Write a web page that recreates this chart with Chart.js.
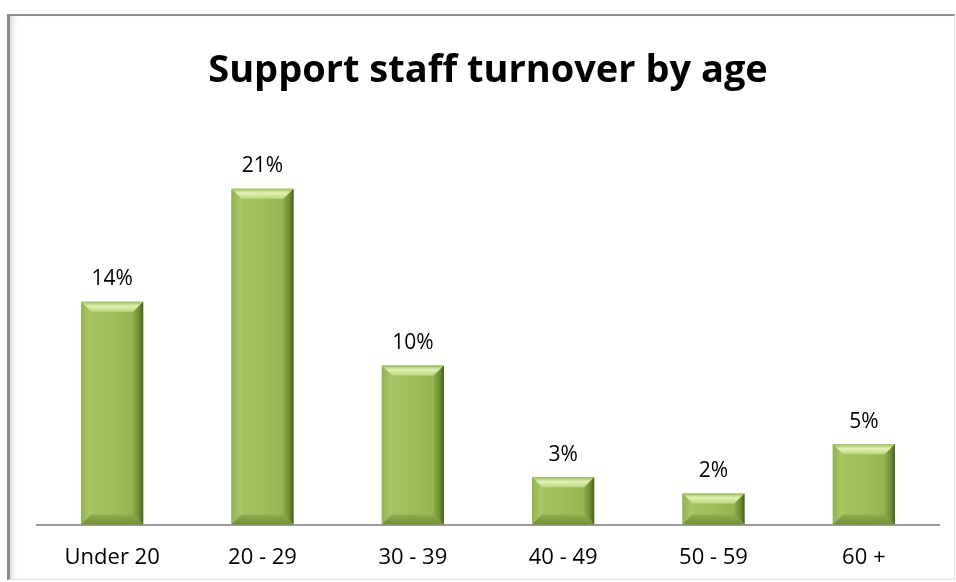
<!DOCTYPE html>
<html>
<head>
<meta charset="utf-8">
<script src="https://cdn.jsdelivr.net/npm/chart.js@4/dist/chart.umd.min.js"></script>
<style>
  html, body { margin: 0; padding: 0; background: #ffffff; }
  #wrap { position: relative; width: 956px; height: 582px; overflow: hidden; }
  #frame {
    position: absolute; left: 7px; top: 14px; width: 944px; height: 563px;
    border-left: 3px solid #8a8a8a; border-top: 2px solid #8f8f8f;
    border-right: 1px solid #e2e2e2; border-bottom: 1px solid #e2e2e2;
    box-shadow: inset 6px 0 6px -4px rgba(0,0,0,0.18);
  }
  canvas { position: absolute; left: 0; top: 0; }
</style>
</head>
<body>
<div id="wrap">
  <div id="frame"></div>
  <canvas id="c" width="956" height="582"></canvas>
</div>
<script>
const titleText = 'Support staff turnover by age';
const categories = ['Under 20', '20 - 29', '30 - 39', '40 - 49', '50 - 59', '60 +'];
const turnover = [14.0, 21.1, 10.0, 2.97, 1.96, 5.05];
const valueLabels = ['14%', '21%', '10%', '3%', '2%', '5%'];

const bevelPlugin = {
  id: 'bevel',
  afterDatasetsDraw(chart) {
    const ctx = chart.ctx;
    const meta = chart.getDatasetMeta(0);
    meta.data.forEach((bar, i) => {
      const p = bar.getProps(['x', 'y', 'base', 'width'], true);
      const L = p.x - p.width / 2, R = p.x + p.width / 2;
      const T = Math.min(p.y, p.base), B = Math.max(p.y, p.base);
      const s = Math.min(10, (B - T) / 3);
      ctx.save();
      let g = ctx.createLinearGradient(L, 0, R, 0);
      g.addColorStop(0, '#a8c766');
      g.addColorStop(0.5, '#9ebe5b');
      g.addColorStop(1, '#90b04e');
      ctx.fillStyle = g;
      ctx.fillRect(L + s, T + s, R - L - 2 * s, B - T - 2 * s);
      g = ctx.createLinearGradient(0, T, 0, T + s + 1);
      g.addColorStop(0, '#9cbb58');
      g.addColorStop(0.4, '#e2f1b4');
      g.addColorStop(1, '#b5d176');
      ctx.fillStyle = g;
      ctx.beginPath();
      ctx.moveTo(L, T); ctx.lineTo(R, T); ctx.lineTo(R - s, T + s); ctx.lineTo(L + s, T + s);
      ctx.closePath(); ctx.fill();
      g = ctx.createLinearGradient(L, 0, L + s, 0);
      g.addColorStop(0, '#93b250');
      g.addColorStop(1, '#adcb6c');
      ctx.fillStyle = g;
      ctx.beginPath();
      ctx.moveTo(L, T); ctx.lineTo(L + s, T + s); ctx.lineTo(L + s, B - s); ctx.lineTo(L, B);
      ctx.closePath(); ctx.fill();
      g = ctx.createLinearGradient(R - s, 0, R, 0);
      g.addColorStop(0, '#8aab48');
      g.addColorStop(0.6, '#6d8d33');
      g.addColorStop(1, '#455e1d');
      ctx.fillStyle = g;
      ctx.beginPath();
      ctx.moveTo(R, T); ctx.lineTo(R, B); ctx.lineTo(R - s, B - s); ctx.lineTo(R - s, T + s);
      ctx.closePath(); ctx.fill();
      g = ctx.createLinearGradient(0, B - s, 0, B);
      g.addColorStop(0, '#8fae4d');
      g.addColorStop(1, '#6f8e36');
      ctx.fillStyle = g;
      ctx.beginPath();
      ctx.moveTo(L, B); ctx.lineTo(R, B); ctx.lineTo(R - s, B - s); ctx.lineTo(L + s, B - s);
      ctx.closePath(); ctx.fill();
      ctx.fillStyle = '#000000';
      ctx.font = '21px "Open Sans"';
      ctx.textAlign = 'center';
      ctx.textBaseline = 'bottom';
      ctx.fillText(valueLabels[i], p.x, T - 12);
      ctx.restore();
    });
  }
};

new Chart(document.getElementById('c'), {
  type: 'bar',
  data: {
    labels: categories,
    datasets: [{
      data: turnover,
      backgroundColor: '#9bbb59',
      borderWidth: 0,
      categoryPercentage: 1.0,
      barPercentage: 0.413
    }]
  },
  options: {
    responsive: false,
    animation: false,
    layout: { padding: { left: 37, right: 17, top: 14, bottom: -9 } },
    plugins: {
      legend: { display: false },
      tooltip: { enabled: false },
      title: {
        display: true,
        text: titleText,
        color: '#000000',
        font: { family: '"Open Sans"', size: 38, weight: 'bold' },
        padding: { top: 34, bottom: 33 }
      }
    },
    scales: {
      x: {
        grid: { display: false, drawTicks: false },
        border: { display: true, color: '#9a9a9a', width: 2 },
        ticks: { color: '#000000', font: { family: '"Open Sans"', size: 22 }, padding: 20 }
      },
      y: {
        display: false,
        min: 0,
        max: 25
      }
    }
  },
  plugins: [bevelPlugin]
});
</script>
</body>
</html>
